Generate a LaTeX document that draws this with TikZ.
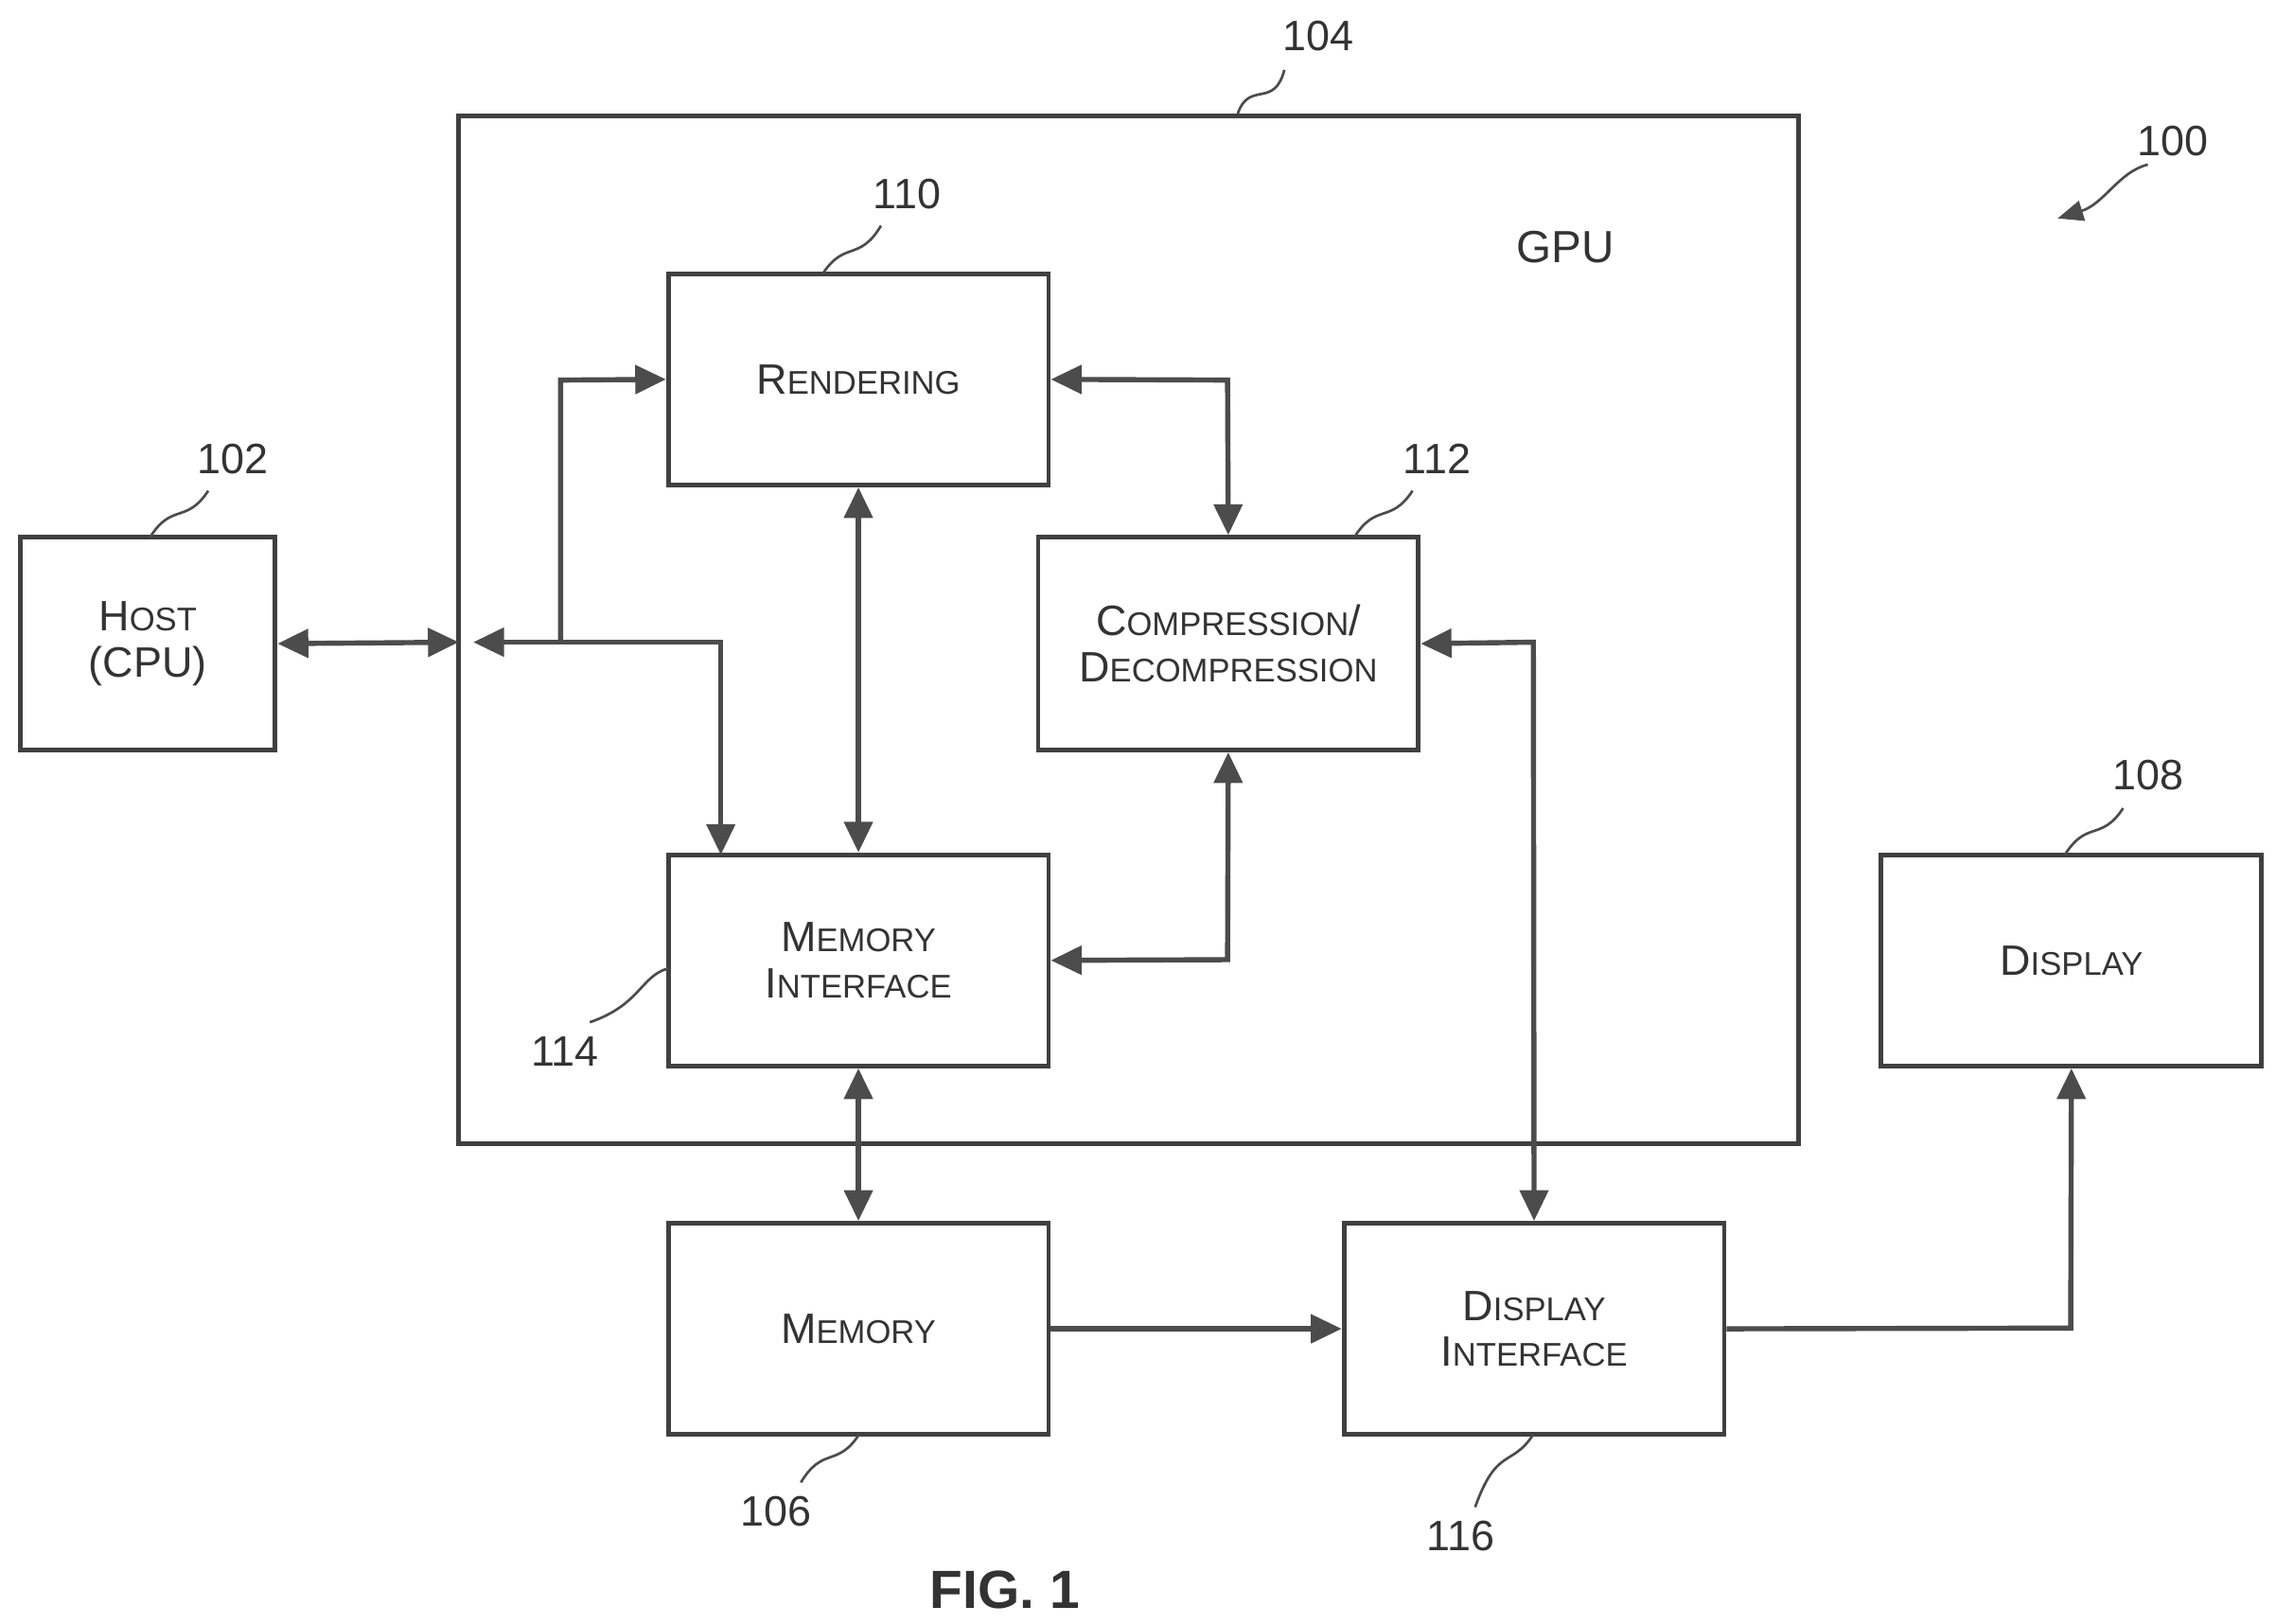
\documentclass[tikz,border=0pt]{standalone}
\usepackage{fontspec}
\setmainfont{Liberation Sans}
\usetikzlibrary{arrows.meta}
\newcommand\smc[2]{{\fontsize{8.3}{10}\selectfont #1}{\fontsize{6.4}{8}\selectfont #2}}
\begin{document}
\begin{tikzpicture}[x=0.01cm,y=-0.01cm,
  box/.style={draw=black!75,line width=0.9pt,align=center,text=black!80,inner sep=0pt,font=\fontsize{8.3}{10}\selectfont},
  ar/.style={draw=black!70,line width=1pt,-{Triangle[length=6pt,width=5.5pt]}},
  dar/.style={draw=black!70,line width=1pt,{Triangle[length=6pt,width=5.5pt]}-{Triangle[length=6pt,width=5.5pt]}},
  lbl/.style={font=\fontsize{8.3}{10}\selectfont,text=black!80},
  sq/.style={draw=black!70,line width=0.5pt}]
\useasboundingbox (0,0) rectangle (1563,1115);
\node[box,minimum width=9.2cm,minimum height=7.05cm] (gpu) at (775,432.5) {};
\node[lbl,font=\fontsize{8.8}{10}\selectfont] (gputxt) at (1075,170) {GPU};
\node[box,minimum width=2.61cm,minimum height=1.45cm] (ren) at (589.5,260.5) {\smc{R}{ENDERING}};
\node[box,minimum width=2.61cm,minimum height=1.46cm] (cmp) at (843.5,442) {\smc{C}{OMPRESSION}/\\[-1pt]\smc{D}{ECOMPRESSION}};
\node[box,minimum width=2.61cm,minimum height=1.45cm] (mi) at (589.5,659.5) {\smc{M}{EMORY}\\[-1pt]\smc{I}{NTERFACE}};
\node[box,minimum width=1.75cm,minimum height=1.46cm] (host) at (101.5,442) {\smc{H}{OST}\\[-1pt](CPU)};
\node[box,minimum width=2.61cm,minimum height=1.45cm] (mem) at (589.5,912.5) {\smc{M}{EMORY}};
\node[box,minimum width=2.61cm,minimum height=1.45cm] (di) at (1053.5,912.5) {\smc{D}{ISPLAY}\\[-1pt]\smc{I}{NTERFACE}};
\node[box,minimum width=2.61cm,minimum height=1.45cm] (disp) at (1422.5,659.5) {\smc{D}{ISPLAY}};
\coordinate (gl) at (315,441);
\coordinate (gl2) at (325,441);
\coordinate (j) at (385,441);
\draw[dar] (host.east) -- (gl);
\draw[ar] (j) -- (gl2);
\draw[ar] (j) -- (385,261) -- (ren.west);
\draw[ar] (j) -- (495,441) -- (495,587);
\draw[dar] (ren.south) -- (mi.north);
\draw[dar] (ren.east) -- (843,261) -- (cmp.north);
\draw[dar] (cmp.south) -- (843,659) -- (mi.east);
\draw[dar] (cmp.east) -- (1053,441) -- (di.north);
\draw[dar] (mi.south) -- (mem.north);
\draw[ar] (mem.east) -- (di.west);
\draw[ar] (di.east) -- (1422,912) -- (disp.south);
\node[lbl] (l104) at (905,25) {104};
\draw[sq] (850,78) .. controls (858,55) and (875,75) .. (882,48);
\node[lbl] (l100) at (1492,97) {100};
\draw[sq,-{Triangle[length=5pt,width=4pt]}] (1475,113) .. controls (1455,118) and (1445,140) .. (1413,150);
\node[lbl] (l110) at (623,133) {110};
\draw[sq] (565,188) .. controls (580,165) and (590,180) .. (605,155);
\node[lbl] (l112) at (987,315) {112};
\draw[sq] (930,369) .. controls (945,345) and (955,360) .. (970,337);
\node[lbl] (l102) at (160,315) {102};
\draw[sq] (103,369) .. controls (118,345) and (128,360) .. (143,337);
\node[lbl] (l108) at (1475,532) {108};
\draw[sq] (1418,587) .. controls (1433,563) and (1443,578) .. (1458,555);
\node[lbl] (l114) at (388,722) {114};
\draw[sq] (459,665) .. controls (440,670) and (440,690) .. (405,702);
\node[lbl] (l106) at (533,1038) {106};
\draw[sq] (590,985) .. controls (575,1008) and (565,993) .. (550,1018);
\node[lbl] (l116) at (1003,1055) {116};
\draw[sq] (1053,985) .. controls (1038,1008) and (1028,993) .. (1013,1035);
\node[font=\bfseries\fontsize{10.5}{12}\selectfont,text=black!80] (fig) at (690,1092) {FIG. 1};
\end{tikzpicture}
\end{document}
